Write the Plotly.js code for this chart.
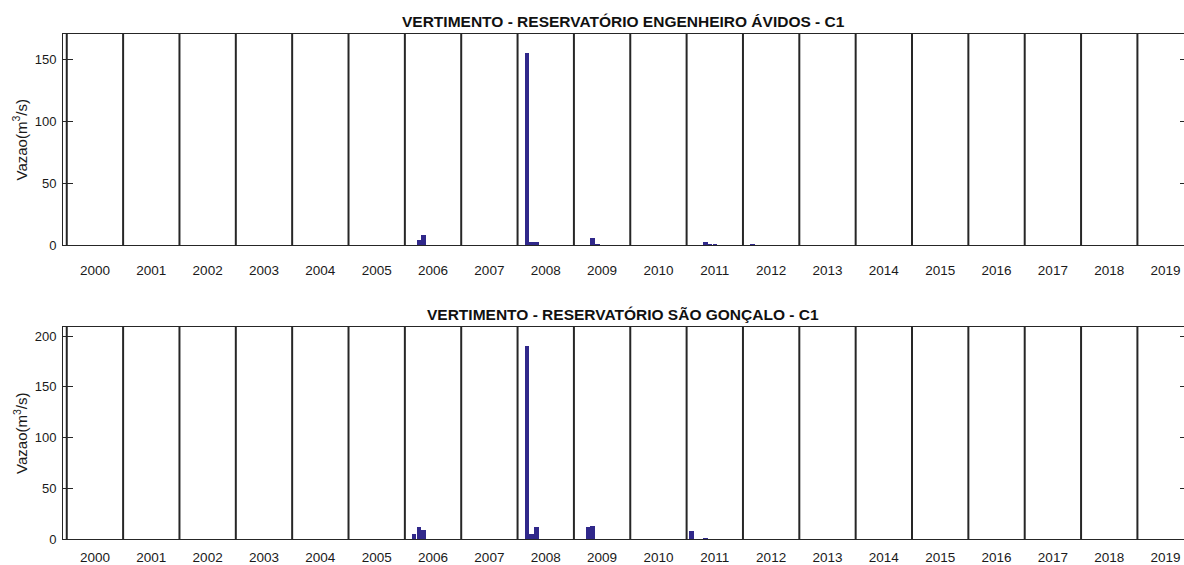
<!DOCTYPE html>
<html>
<head>
<meta charset="utf-8">
<script src="https://cdn.plot.ly/plotly-3.0.1.min.js"></script>
<style>
html,body{margin:0;padding:0;overflow:hidden;background:#fff;}
#chart{width:1192px;height:565px;}
</style>
</head>
<body>
<div id="chart"></div>
<script>
// Year labels (x axis)
const years = ['2000','2001','2002','2003','2004','2005','2006','2007','2008','2009',
               '2010','2011','2012','2013','2014','2015','2016','2017','2018','2019'];

// Monthly spill flows (m3/s); months not listed are zero
const avidosMonths = ['2006-03','2006-04','2008-02','2008-03','2008-04','2009-04','2009-05','2011-04','2011-05','2011-06','2012-02'];
const avidosFlow   = [4.2, 8.3, 156, 2.7, 2.7, 5.4, 1.0, 2.2, 1.0, 1.0, 0.8];

const saoMonths = ['2006-02','2006-03','2006-04','2008-02','2008-03','2008-04','2009-03','2009-04','2011-01','2011-04'];
const saoFlow   = [4.6, 12, 9, 190, 4.6, 11.5, 11.5, 12.5, 8, 1];

const titles = ['VERTIMENTO - RESERVATÓRIO ENGENHEIRO ÁVIDOS - C1',
                'VERTIMENTO - RESERVATÓRIO SÃO GONÇALO - C1'];
const yTitle = 'Vazao(m<sup>3</sup>/s)';

// month string -> position on the month axis (year boundary at 12*k)
function monthPos(s){
  const y = parseInt(s.slice(0,4),10), m = parseInt(s.slice(5,7),10);
  return (y - 2000) * 12 + m;
}

const barColor = '#30288a';
const axColor = '#262626';
const fontFam = '"Liberation Sans", Arial, Helvetica, sans-serif';

const traces = [
  {type:'bar', x: avidosMonths.map(monthPos), y: avidosFlow, xaxis:'x', yaxis:'y',
   width:0.95, marker:{color:barColor, line:{width:0}}, hoverinfo:'x+y', showlegend:false},
  {type:'bar', x: saoMonths.map(monthPos), y: saoFlow, xaxis:'x2', yaxis:'y2',
   width:0.95, marker:{color:barColor, line:{width:0}}, hoverinfo:'x+y', showlegend:false}
];

const tickvals = years.map((y,i)=> i*12 + 6);
const xRange = [-0.8, 239.2];

function xAxis(anchor, standoff){
  return {domain:[0,1], range:xRange, anchor:anchor, tickmode:'array', tickvals:tickvals, ticktext:years,
    ticks:'', showline:true, mirror:true, linecolor:axColor, linewidth:1, zeroline:false, showgrid:false,
    ticklabelstandoff:standoff, tickfont:{size:13.5, color:'#1a1a1a', family:fontFam}};
}
function yAxis(anchor, dom, range, tv){
  return {domain:dom, range:range, anchor:anchor, tickmode:'array', tickvals:tv,
    ticks:'inside', ticklen:10, tickcolor:axColor, showline:true, mirror:'ticks', linecolor:axColor, linewidth:1,
    zeroline:false, showgrid:false, tickfont:{size:13, color:'#1a1a1a', family:fontFam}, ticklabelstandoff:3};
}

const shapes = [];
years.forEach((y,i)=>{
  ['x','x2'].forEach((xr,j)=>{
    shapes.push({type:'line', xref:xr, yref:(j===0?'y domain':'y2 domain'), x0:i*12, x1:i*12, y0:0, y1:1,
      line:{color:axColor, width:2}});
  });
});

const annotations = [
  {text:'<b>'+titles[0]+'</b>', xref:'paper', yref:'paper', x:0.497, xanchor:'center', y:1, yanchor:'bottom', yshift:2,
   showarrow:false, font:{size:15.5, color:'#111', family:fontFam}},
  {text:'<b>'+titles[1]+'</b>', xref:'paper', yref:'paper', x:0.497, xanchor:'center', y:0.4198, yanchor:'bottom', yshift:2,
   showarrow:false, font:{size:15.5, color:'#111', family:fontFam}},
  {text:yTitle, xref:'paper', yref:'paper', x:-0.0382, xanchor:'center', y:0.791, yanchor:'middle', textangle:-90, showarrow:false,
   font:{size:15, color:'#1a1a1a', family:fontFam}},
  {text:yTitle, xref:'paper', yref:'paper', x:-0.0382, xanchor:'center', y:0.2099, yanchor:'middle', textangle:-90, showarrow:false,
   font:{size:15, color:'#1a1a1a', family:fontFam}}
];

const layout = {
  width:1192, height:565,
  margin:{l:63, r:2, t:34, b:26},
  paper_bgcolor:'#fff', plot_bgcolor:'#fff',
  font:{family:fontFam, color:'#1a1a1a'},
  bargap:0,
  xaxis: xAxis('y', 13),
  xaxis2: xAxis('y2', 6),
  yaxis: yAxis('x', [0.582,1], [0,171], [0,50,100,150]),
  yaxis2: yAxis('x2', [0,0.4198], [0,209], [0,50,100,150,200]),
  shapes:shapes,
  annotations:annotations,
  showlegend:false
};

Plotly.newPlot('chart', traces, layout, {displayModeBar:false, staticPlot:true});
</script>
</body>
</html>
